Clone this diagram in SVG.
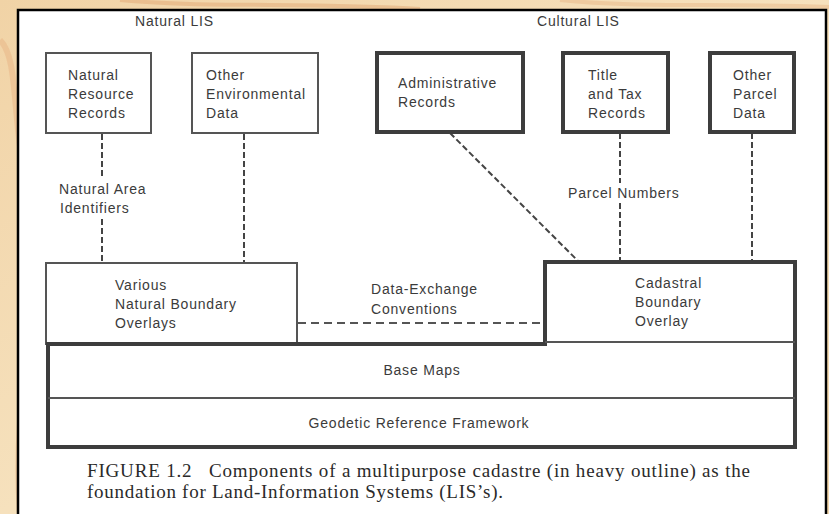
<svg xmlns="http://www.w3.org/2000/svg" width="829" height="514" viewBox="0 0 829 514">
  <defs>
    <linearGradient id="parchment" x1="0" y1="0" x2="1" y2="1">
      <stop offset="0" stop-color="#f1d3a6"/>
      <stop offset="0.5" stop-color="#f6e1bd"/>
      <stop offset="1" stop-color="#f3d8ae"/>
    </linearGradient>
    <style>
      .lbl { font-family: "Liberation Sans", Arial, sans-serif; font-size: 14px; fill: #3b3b3b; letter-spacing: 0.8px; }
      .cap { font-family: "Liberation Serif", "Times New Roman", serif; font-size: 19px; fill: #2a2a2a; }
      .thin { fill: #ffffff; stroke: #555555; stroke-width: 2; }
      .heavy { fill: #ffffff; stroke: #3d3d3d; stroke-width: 4; }
      .div { fill: none; stroke: #555555; stroke-width: 2; }
      .dash { fill: none; stroke: #444444; stroke-width: 2; stroke-dasharray: 6 3; }
      .dash-long { fill: none; stroke: #555555; stroke-width: 2; stroke-dasharray: 8 5; }
    </style>
  </defs>

  <!-- backing sheet and page -->
  <rect x="0" y="0" width="829" height="514" fill="url(#parchment)"/>
  <path d="M0 40 C 20 60, 10 120, 30 200 S 10 380, 20 514" fill="none" stroke="#e9b98a" stroke-width="6" opacity="0.6"/>
  <path d="M120 0 C 200 8, 320 2, 420 9" fill="none" stroke="#e2a874" stroke-width="4" opacity="0.5"/>
  <path d="M560 0 C 640 8, 700 3, 829 7" fill="none" stroke="#e8b888" stroke-width="4" opacity="0.5"/>
  <rect x="18" y="10" width="808" height="520" fill="#ffffff" stroke="#000000" stroke-width="2.5"/>

  <!-- group headings -->
  <text class="lbl" x="135" y="26">Natural LIS</text>
  <text class="lbl" x="537" y="26">Cultural LIS</text>

  <!-- connectors -->
  <g id="connectors">
    <line class="dash" x1="102" y1="134" x2="102" y2="176"/>
    <line class="dash" x1="102" y1="219" x2="102" y2="262"/>
    <line class="dash" x1="244" y1="134" x2="244" y2="262"/>
    <line class="dash" x1="450" y1="133" x2="578" y2="261"/>
    <line class="dash" x1="620" y1="133" x2="620" y2="183"/>
    <line class="dash" x1="620" y1="203" x2="620" y2="261"/>
    <line class="dash" x1="752" y1="133" x2="752" y2="261"/>
    <line class="dash-long" x1="298" y1="323" x2="545" y2="323"/>
    <text class="lbl" x="59" y="194">Natural Area</text>
    <text class="lbl" x="60" y="213">Identifiers</text>
    <text class="lbl" x="568" y="198">Parcel Numbers</text>
    <text class="lbl" x="371" y="294">Data-Exchange</text>
    <text class="lbl" x="371" y="314">Conventions</text>
  </g>

  <!-- top row of record nodes -->
  <g id="natural-resource-records">
    <rect class="thin" x="46" y="53" width="105" height="80"/>
    <text class="lbl" x="68" y="80">Natural</text>
    <text class="lbl" x="68" y="99">Resource</text>
    <text class="lbl" x="68" y="118">Records</text>
  </g>
  <g id="other-environmental-data">
    <rect class="thin" x="192" y="53" width="126" height="80"/>
    <text class="lbl" x="206" y="80">Other</text>
    <text class="lbl" x="206" y="99">Environmental</text>
    <text class="lbl" x="206" y="118">Data</text>
  </g>
  <g id="administrative-records">
    <rect class="heavy" x="377" y="53" width="146" height="79"/>
    <text class="lbl" x="398" y="88">Administrative</text>
    <text class="lbl" x="398" y="107">Records</text>
  </g>
  <g id="title-and-tax-records">
    <rect class="heavy" x="563" y="53" width="105" height="79"/>
    <text class="lbl" x="588" y="80">Title</text>
    <text class="lbl" x="588" y="99">and Tax</text>
    <text class="lbl" x="588" y="118">Records</text>
  </g>
  <g id="other-parcel-data">
    <rect class="heavy" x="710" y="53" width="84" height="79"/>
    <text class="lbl" x="733" y="80">Other</text>
    <text class="lbl" x="733" y="99">Parcel</text>
    <text class="lbl" x="733" y="118">Data</text>
  </g>

  <!-- overlays -->
  <g id="natural-boundary-overlays">
    <rect class="thin" x="46" y="263" width="251" height="81"/>
    <text class="lbl" x="115" y="290">Various</text>
    <text class="lbl" x="115" y="309">Natural Boundary</text>
    <text class="lbl" x="115" y="328">Overlays</text>
  </g>

  <!-- cadastre: cadastral overlay, base maps, geodetic framework -->
  <g id="cadastre">
    <path class="heavy" d="M48 344 H545 V262 H795 V447 H48 Z"/>
    <line class="div" x1="545" y1="342" x2="795" y2="342"/>
    <line class="div" x1="48" y1="398" x2="795" y2="398"/>
  </g>
  <g id="cadastral-boundary-overlay">
    <text class="lbl" x="635" y="288">Cadastral</text>
    <text class="lbl" x="635" y="307">Boundary</text>
    <text class="lbl" x="635" y="326">Overlay</text>
  </g>
  <g id="base-maps">
    <text class="lbl" x="422" y="375" text-anchor="middle">Base Maps</text>
  </g>
  <g id="geodetic-reference-framework">
    <text class="lbl" x="419" y="428" text-anchor="middle">Geodetic Reference Framework</text>
  </g>

  <!-- caption -->
  <text class="cap" x="87" y="477" textLength="663" lengthAdjust="spacing" xml:space="preserve">FIGURE 1.2   Components of a multipurpose cadastre (in heavy outline) as the</text>
  <text class="cap" x="87" y="498" textLength="416" lengthAdjust="spacing">foundation for Land-Information Systems (LIS’s).</text>
</svg>
